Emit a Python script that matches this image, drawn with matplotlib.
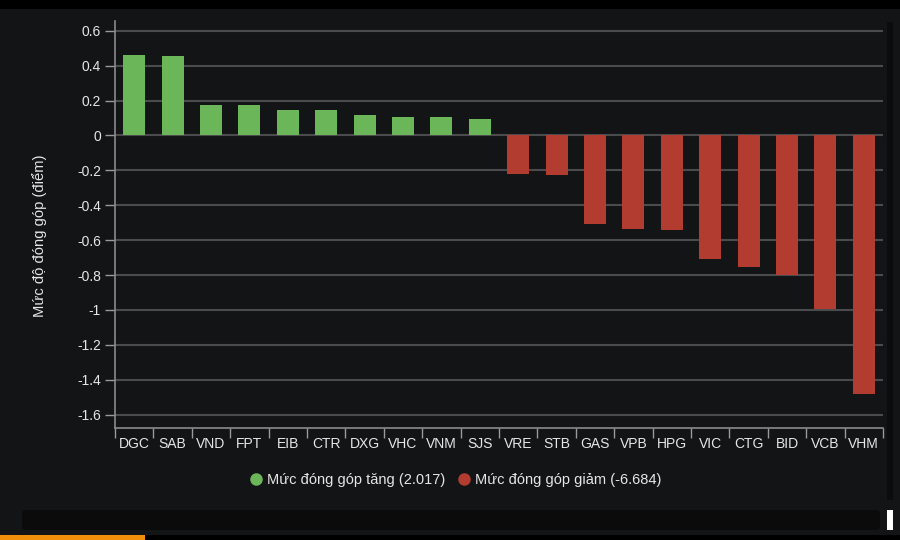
import numpy as np
from matplotlib import pyplot as plt
from matplotlib.patches import FancyBboxPatch, Rectangle
from matplotlib.lines import Line2D

# dữ liệu
tickers = ['DGC', 'SAB', 'VND', 'FPT', 'EIB', 'CTR', 'DXG', 'VHC', 'VNM', 'SJS',
           'VRE', 'STB', 'GAS', 'VPB', 'HPG', 'VIC', 'CTG', 'BID', 'VCB', 'VHM']
values = [0.461, 0.453, 0.172, 0.172, 0.148, 0.148, 0.120, 0.106, 0.106, 0.096,
          -0.223, -0.229, -0.505, -0.534, -0.540, -0.706, -0.755, -0.799, -0.992, -1.480]
yticks = [0.6, 0.4, 0.2, 0, -0.2, -0.4, -0.6, -0.8, -1, -1.2, -1.4, -1.6]
legend_up = 'Mức đóng góp tăng (2.017)'
legend_down = 'Mức đóng góp giảm (-6.684)'
ylabel = 'Mức độ đóng góp (điểm)'

BG = '#131416'
GREEN = '#6ab658'
RED = '#b33c30'
TXT = '#e6e6e6'
GRID = '#4b4b4d'

plt.rcParams['font.family'] = ['Liberation Sans', 'DejaVu Sans']

fig = plt.figure(figsize=(9, 5.4), dpi=100, facecolor=BG)
W, H = 900, 540

# khung trên màu đen
fig.patches.append(Rectangle((0, 1 - 9 / H), 1, 9 / H, transform=fig.transFigure,
                             facecolor='#000000', edgecolor='none', zorder=0))

ax = fig.add_axes([115 / W, 1 - 427.7 / H, (883 - 115) / W, (427.7 - 21) / H])
ax.set_facecolor(BG)

x = np.arange(len(tickers))
colors = [GREEN if v >= 0 else RED for v in values]
ax.bar(x, values, width=0.57, color=colors, zorder=3)

ax.set_xlim(-0.5, len(tickers) - 0.5)
ax.set_ylim(-1.675, 0.656)
ax.set_yticks(yticks)
ax.set_yticklabels([f'{t:g}' for t in yticks])
ax.set_xticks(x)
ax.set_xticklabels(tickers)
ax.set_xticks(np.arange(len(tickers) + 1) - 0.5, minor=True)

ax.grid(axis='y', color=GRID, linewidth=1.5, zorder=1)
ax.tick_params(axis='y', colors='#9a9a9a', labelcolor=TXT, labelsize=10, length=7, width=1, pad=3)
ax.tick_params(axis='x', which='major', length=0, labelcolor=TXT, labelsize=10, pad=7)
ax.tick_params(axis='x', which='minor', colors='#9a9a9a', length=7, width=1)

for s in ['top', 'right']:
    ax.spines[s].set_visible(False)
ax.spines['left'].set_color('#8a8a8a')
ax.spines['bottom'].set_color('#8a8a8a')
ax.spines['left'].set_linewidth(1.2)
ax.spines['bottom'].set_linewidth(1.2)

fig.text(40 / W, 1 - 236 / H, ylabel, rotation=90, color=TXT, fontsize=10.6,
         ha='center', va='center')

handles = [Line2D([], [], marker='o', linestyle='none', markersize=8, color=GREEN),
           Line2D([], [], marker='o', linestyle='none', markersize=8, color=RED)]
fig.legend(handles, [legend_up, legend_down], loc='center', bbox_to_anchor=(455 / W, 1 - 480 / H),
           ncol=2, frameon=False, fontsize=10.5, labelcolor=TXT, handletextpad=0.25,
           columnspacing=0.75, handlelength=1.0)

# thanh cuộn và các phần trang trí
fig.patches.append(FancyBboxPatch((22 / W, 1 - 530 / H), (880 - 22) / W, 20 / H,
                                  boxstyle='round,pad=0,rounding_size=0.005',
                                  transform=fig.transFigure, facecolor='#0b0b0c',
                                  edgecolor='none', zorder=0))
fig.patches.append(Rectangle((887 / W, 1 - 500 / H), 6 / W, (500 - 22) / H, transform=fig.transFigure,
                             facecolor='#0c0c0d', edgecolor='none', zorder=0))
fig.patches.append(Rectangle((887 / W, 1 - 530 / H), 6 / W, 20 / H, transform=fig.transFigure,
                             facecolor='#ffffff', edgecolor='none', zorder=0))
fig.patches.append(Rectangle((0, 0), 1, 5 / H, transform=fig.transFigure,
                             facecolor='#000000', edgecolor='none', zorder=0))
fig.patches.append(Rectangle((0, 0), 145 / W, 5 / H, transform=fig.transFigure,
                             facecolor='#f0900a', edgecolor='none', zorder=0))

fig.savefig('out.png', dpi=100, facecolor=BG)
